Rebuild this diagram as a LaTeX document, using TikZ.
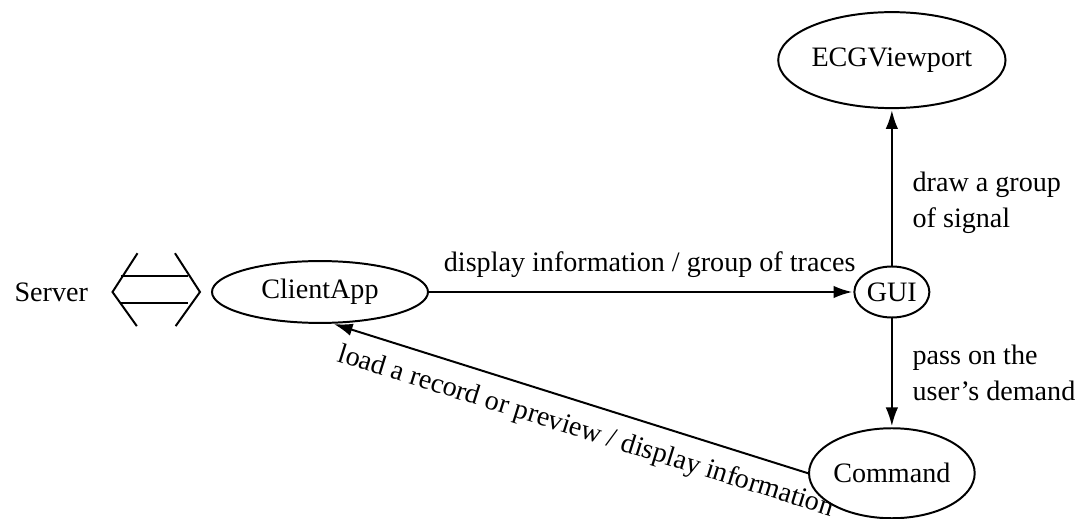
\documentclass[tikz,border=0pt]{standalone}
\usepackage{fontspec}
\setmainfont{Liberation Serif}
\usepackage{tikz}
\usetikzlibrary{shapes.geometric,positioning,calc,arrows.meta}

\begin{document}
\begin{tikzpicture}[shorten >=0.5pt,node distance=1cm,on grid,auto,line width=0.9pt,>={Latex[length=0.3cm,width=0.2cm]},
  font=\fontsize{12.8}{16.3}\selectfont,
  proc/.style={draw,ellipse,inner sep=0pt}]
\useasboundingbox (-5.12,-3.632) rectangle (12.16,4.672);
\node[proc,minimum width=3.456cm,minimum height=0.99cm](q_app){ClientApp};
\node[proc,minimum width=1.2cm,minimum height=0.816cm](q_gui)[right=9.15cm of q_app]{GUI};
\node[proc,minimum width=3.2cm,minimum height=1.536cm](q_ecg)[above=3.71cm of q_gui]{ECGViewport};
\node[proc,minimum width=2.24cm,minimum height=1.44cm](q_cmd)[below=2.9cm of q_gui]{Command};
\node(q_srv)[left=4.3cm of q_app]{Server};
\node[coordinate](q_sym)[left=2.62cm of q_app]{};
\begin{scope}[shift={(q_sym)}]
\draw (-0.30,0.62) -- (-0.70,0) -- (-0.30,-0.56);
\draw (0.30,0.62) -- (0.70,0) -- (0.30,-0.56);
\draw (-0.57,0.25) -- (0.53,0.25);
\draw (-0.57,-0.18) -- (0.53,-0.18);
\end{scope}
\path[->](q_app) edge node[pos=0.52,yshift=1mm] {display information / group of traces} (q_gui);
\draw[->] (q_gui) -- (q_ecg) node[pos=0.4,right,align=left,xshift=2mm] {draw a group\\of signal};
\draw[->] (q_gui) -- (q_cmd) node[midway,right,align=left,xshift=2mm] {pass on the\\user's demand};
\draw[->] (q_cmd.west) -- (q_app.-68) node[pos=0.45,sloped,below,yshift=-1mm] {load a record or preview / display information};
\end{tikzpicture}
\end{document}
